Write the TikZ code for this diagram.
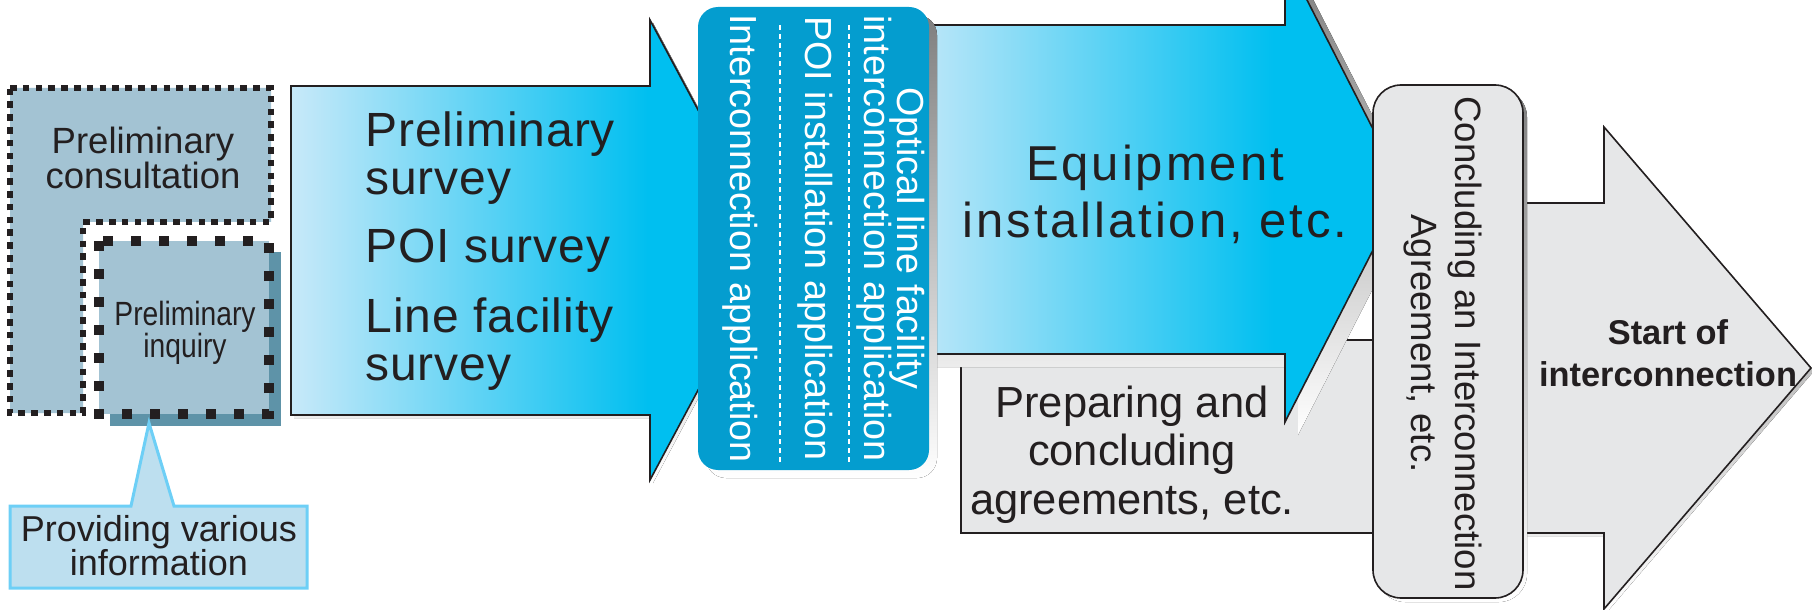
\documentclass[tikz,border=0pt]{standalone}
\usepackage{fontspec}
\setmainfont{Liberation Sans}
\newfontfamily\condfont{Liberation Sans}[FakeStretch=0.84]
\definecolor{ink}{HTML}{231F20}
\definecolor{steel}{HTML}{A3C3D3}
\definecolor{steeldark}{HTML}{5E93A8}
\definecolor{calfill}{HTML}{BDDFEF}
\definecolor{caledge}{HTML}{6DCFF6}
\definecolor{sky}{HTML}{C8E9F9}
\definecolor{cyanfull}{HTML}{00BFF0}
\definecolor{appblue}{HTML}{049DCF}
\definecolor{paper}{HTML}{E6E7E8}
\definecolor{shade}{HTML}{808285}
\pgfdeclarehorizontalshading{arrowgrad}{100bp}{color(0bp)=(sky); color(25bp)=(sky); color(62bp)=(cyanfull); color(100bp)=(cyanfull)}
\begin{document}
\begin{tikzpicture}[x=0.5pt,y=-0.5pt,
  outline/.style={draw=ink,line width=0.8pt,line join=miter},
  txt/.style={text=ink,inner sep=0pt,anchor=base},
  wtxt/.style={text=white,inner sep=0pt,anchor=base,rotate=-90,font=\fontsize{18.85}{20}\selectfont},
  ctxt/.style={text=ink,inner sep=0pt,anchor=base,rotate=-90,font=\fontsize{18.3}{20}\selectfont},
  sv/.style={text=ink,inner sep=0pt,anchor=base west,font=\addfontfeature{LetterSpace=2}\fontsize{24}{26}\selectfont},
  sepline/.style={white,line width=0.6pt,dash pattern=on 2.5pt off 2pt}]
\useasboundingbox (0,0) rectangle (1812,610);
% ---------- left group ----------
\path[fill=steel] (10,88) -- (271,88) -- (271,222) -- (83,222) -- (83,413) -- (10,413) -- cycle;
\draw[ink,line width=3.3pt,dash pattern=on 3.3pt off 3.1pt] (10,88) -- (271,88) -- (271,222) -- (83,222) -- (83,413) -- (10,413) -- cycle;
\fill[steeldark] (110,252) rectangle (281,426);
\fill[steel] (99,241) rectangle (269,414);
\draw[ink,line width=5pt,dash pattern=on 5pt off 9pt] (99,241) rectangle (269,414);
\draw[fill=calfill,draw=caledge,line width=1.5pt,line join=miter] (10,506) -- (131,506) -- (149,423) -- (174,506) -- (307,506) -- (307,588) -- (10,588) -- cycle;
% ---------- arrow 1 ----------
\fill[shade,shift={(3,3)}] (291,86) -- (650,86) -- (650,20) -- (773,250) -- (650,480) -- (650,415) -- (291,415) -- cycle;
\path[outline,shading=arrowgrad] (291,86) -- (650,86) -- (650,20) -- (773,250) -- (650,480) -- (650,415) -- (291,415) -- cycle;
% ---------- preparing box ----------
\fill[shade,shift={(3,3)}] (961,340) rectangle (1390,533);
\path[outline,fill=paper] (961,340) rectangle (1390,533);
% ---------- arrow 2 ----------
\fill[shade,shift={(13,13)}] (900,25) -- (1285,25) -- (1285,-43) -- (1404,189.5) -- (1285,422) -- (1285,354) -- (900,354) -- cycle;
\path[outline,shading=arrowgrad] (900,25) -- (1285,25) -- (1285,-43) -- (1404,189.5) -- (1285,422) -- (1285,354) -- (900,354) -- cycle;
% ---------- applications box ----------
\fill[shade,rounded corners=10pt] (706,15) rectangle (937,478);
\fill[appblue,rounded corners=10pt] (698,7) rectangle (929,470);
\draw[sepline] (849,25) -- (849,462);
\draw[sepline] (780,25) -- (780,462);
% ---------- arrow 3 ----------
\fill[shade,shift={(3,3)}] (1450,203) -- (1604,203) -- (1604,127) -- (1811,368) -- (1604,609) -- (1604,533) -- (1450,533) -- cycle;
\path[outline,fill=paper] (1450,203) -- (1604,203) -- (1604,127) -- (1811,368) -- (1604,609) -- (1604,533) -- (1450,533) -- cycle;
% ---------- concluding box ----------
\fill[shade,rounded corners=14pt] (1377,89) rectangle (1527,602);
\path[outline,fill=paper,rounded corners=14pt] (1373,85) rectangle (1523,598);
% ---------- texts ----------
\node[txt,font=\fontsize{18.25}{20}\selectfont] (pc1) at (143,154) {Preliminary};
\node[txt,font=\fontsize{18.25}{20}\selectfont] (pc2) at (143,189) {consultation};
\node[txt,font=\condfont\fontsize{16.8}{18}\selectfont] (pi1) at (185,325) {Preliminary};
\node[txt,font=\condfont\fontsize{16.8}{18}\selectfont] (pi2) at (185,357.5) {inquiry};
\node[txt,font=\fontsize{18}{20}\selectfont] (pv1) at (159,541) {Providing various};
\node[txt,font=\fontsize{18}{20}\selectfont] (pv2) at (159,575) {information};
\node[sv] (s1) at (365,147) {Preliminary};
\node[sv] (s2) at (365,195) {survey};
\node[sv] (s3) at (365,263) {POI survey};
\node[sv] (s4) at (365,332) {Line facility};
\node[sv] (s5) at (365,380) {survey};
\node[wtxt] (a1) at (897,238.5) {Optical line facility};
\node[wtxt] (a2) at (864,238.5) {interconnection application};
\node[wtxt] (a3) at (805,238.5) {POI installation application};
\node[wtxt] (a4) at (730,238.5) {Interconnection application};
\node[txt,font=\addfontfeature{LetterSpace=6}\fontsize{24.5}{26}\selectfont] (e1) at (1155,181) {Equipment};
\node[txt,font=\addfontfeature{LetterSpace=6}\fontsize{24.5}{26}\selectfont] (e2) at (1155,237) {installation, etc.};
\node[txt,font=\fontsize{21.75}{24}\selectfont] (p1) at (1132,417) {Preparing and};
\node[txt,font=\fontsize{21.75}{24}\selectfont] (p2) at (1132,465) {concluding};
\node[txt,font=\fontsize{21.75}{24}\selectfont] (p3) at (1132,514) {agreements, etc.};
\node[ctxt] (c1) at (1455,343.5) {Concluding an Interconnection};
\node[ctxt] (c2) at (1411,343.5) {Agreement, etc.};
\node[txt,font=\bfseries\fontsize{17.2}{19}\selectfont] (st1) at (1668,344) {Start of};
\node[txt,font=\bfseries\fontsize{17.2}{19}\selectfont] (st2) at (1668,386) {interconnection};
\end{tikzpicture}
\end{document}
